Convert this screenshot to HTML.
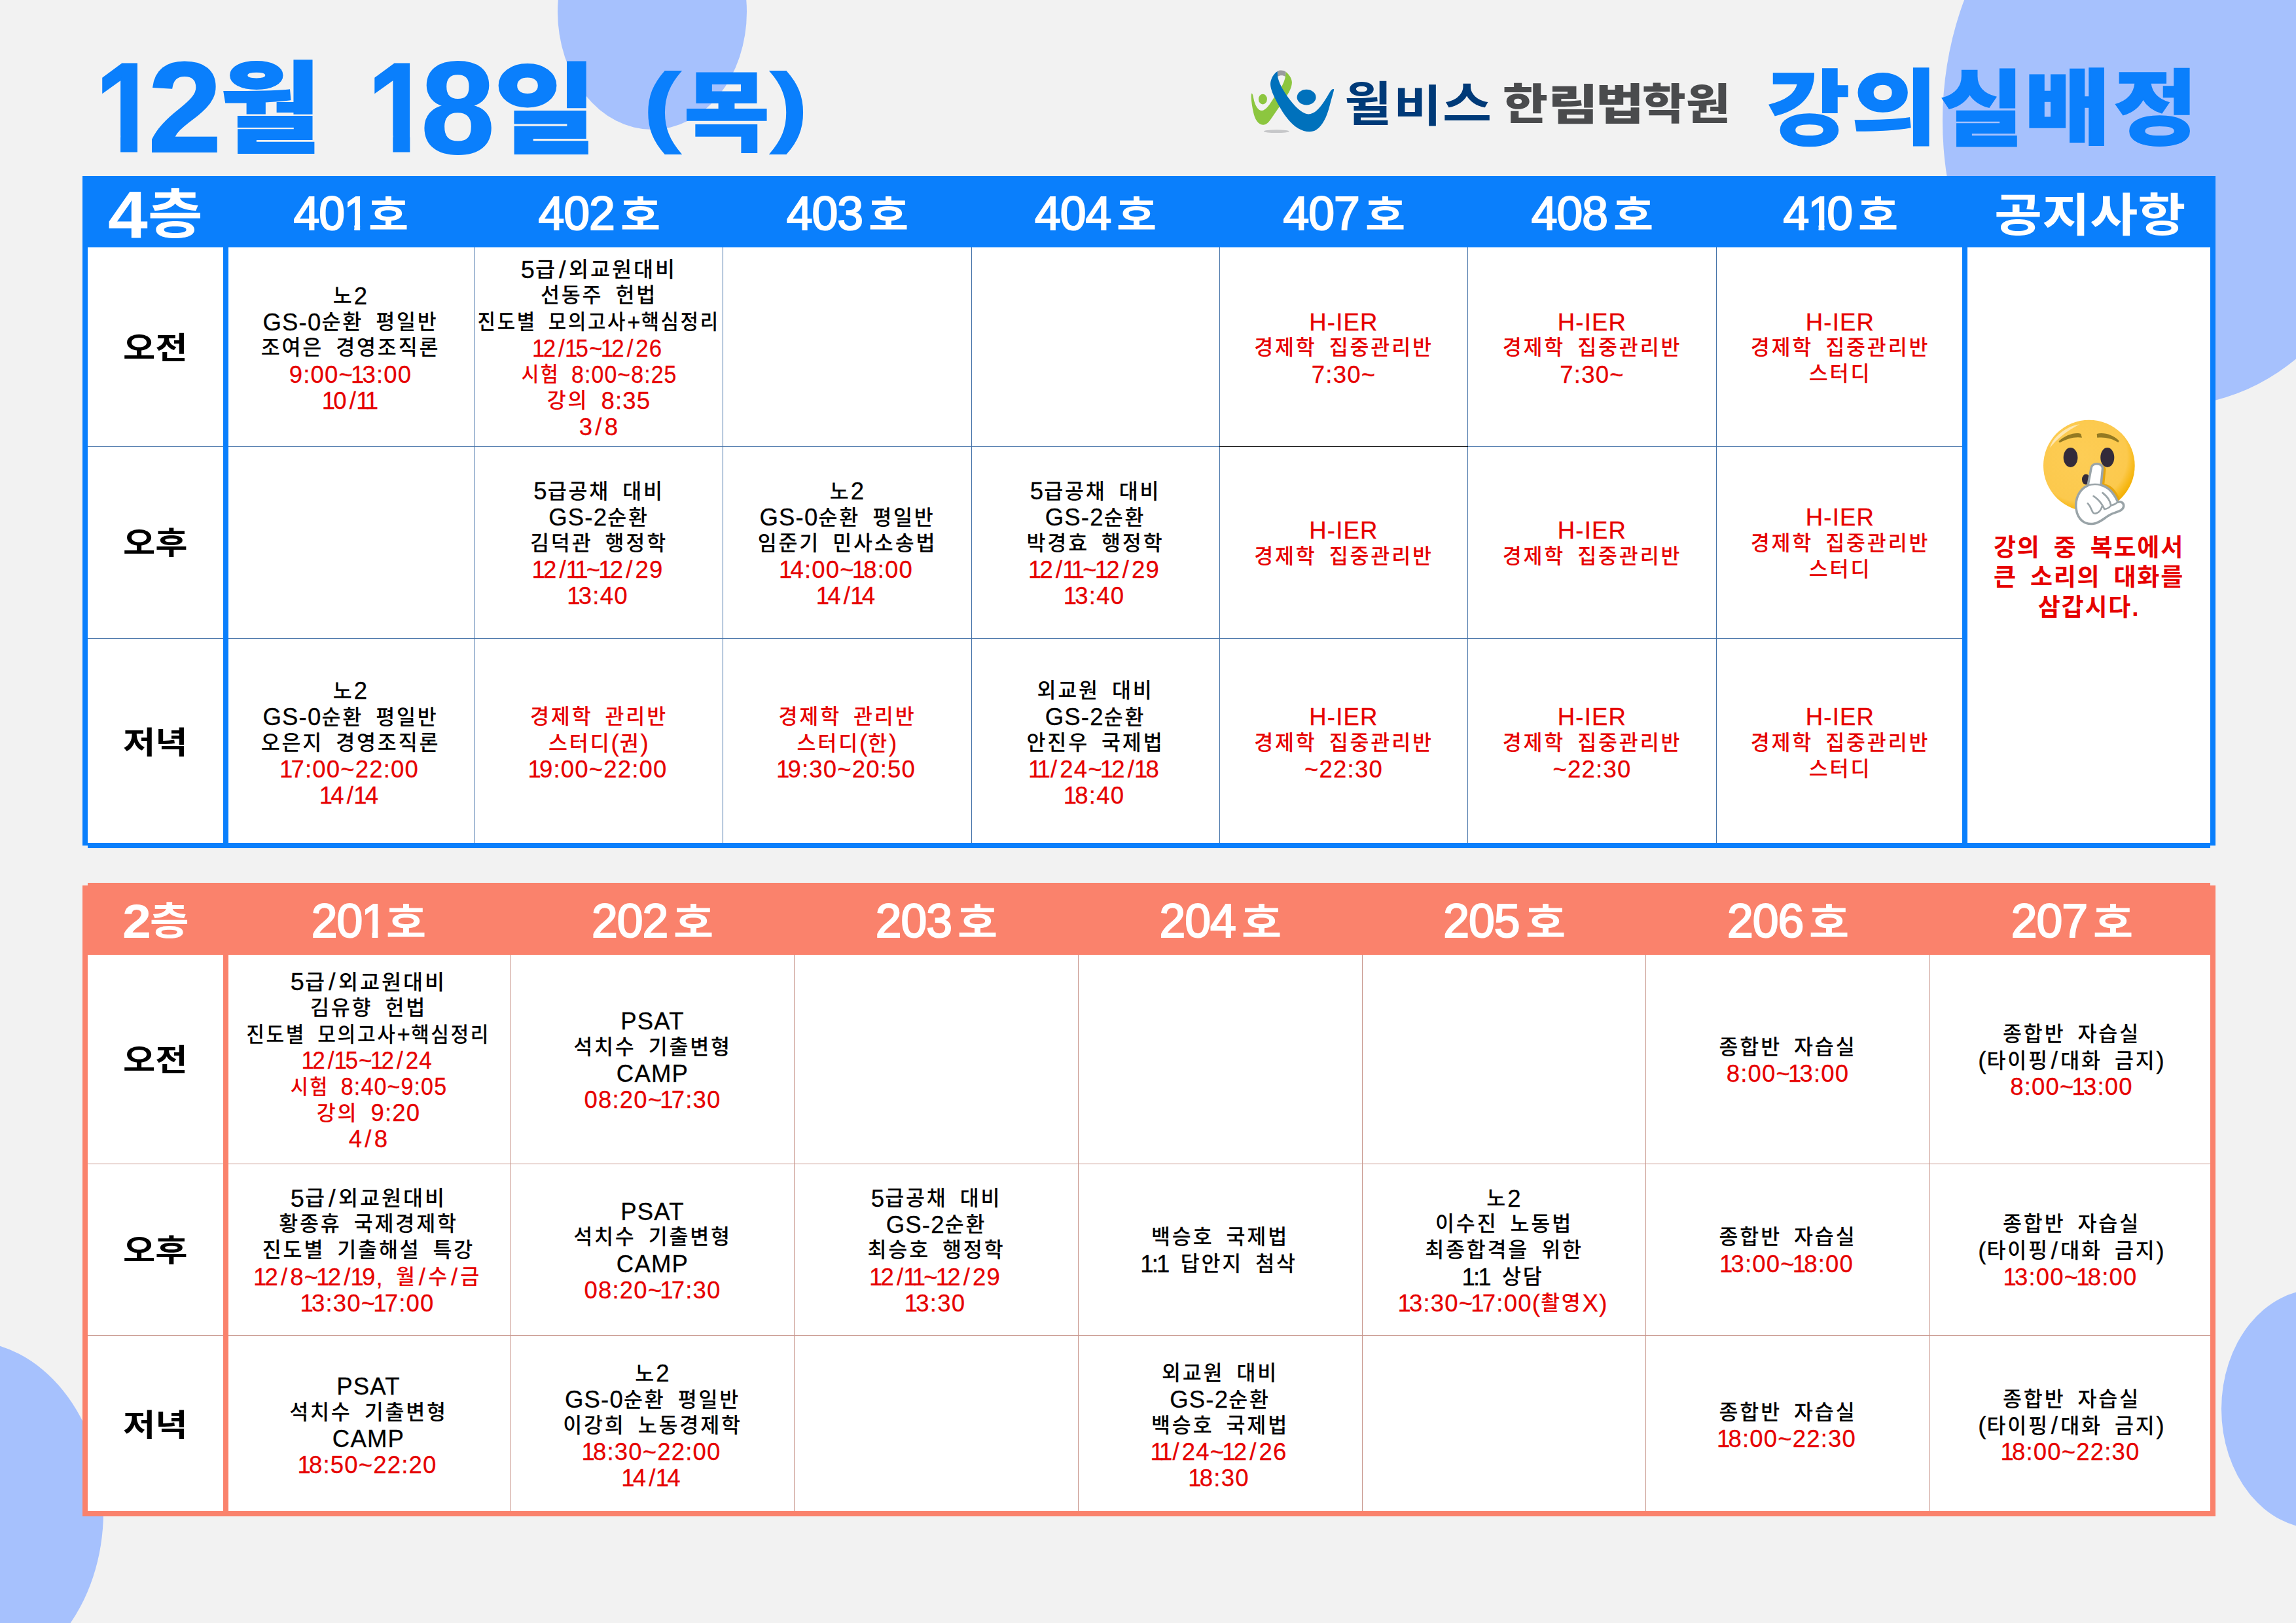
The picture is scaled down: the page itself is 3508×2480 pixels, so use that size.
<!DOCTYPE html>
<html lang="ko"><head><meta charset="utf-8"><title>강의실배정</title>
<style>
html,body{margin:0;padding:0}
body{width:3508px;height:2480px;background:#f2f2f2;position:relative;overflow:hidden;font-family:"Liberation Sans","Noto Sans CJK KR",sans-serif}
div{box-sizing:border-box}
.abs{position:absolute}
.circ{position:absolute;border-radius:50%;background:#a6c1fd}
.c{position:absolute;display:flex;flex-direction:column;justify-content:center;align-items:center;text-align:center;font-size:31.5px;font-weight:500;line-height:40px;letter-spacing:2.8px;word-spacing:7.6px;white-space:nowrap;padding-top:2px}
.a{font-size:36.5px;letter-spacing:1.2px;position:relative;top:1.5px;-webkit-text-stroke:0.3px currentColor}.s{margin:0 3px}.o{margin:0 -4px}
.c>div{height:40px}
.k{color:#000}.r{color:#e60000}
.lab{position:absolute;display:flex;justify-content:center;align-items:center;font-size:47px;font-weight:700;color:#000;white-space:nowrap;padding-bottom:6px}
.lab span{display:inline-block;transform:scaleX(1.14)}
.h{position:absolute;display:flex;justify-content:center;align-items:center;color:#fff;font-weight:700;white-space:nowrap}
.hh{align-items:flex-start}
.hd{font-size:71.5px;font-weight:400;-webkit-text-stroke:2.2px #fff;letter-spacing:-1px;line-height:1;margin-top:22.3px}
.h1{display:inline-block;clip-path:polygon(0 0,64.5% 0,64.5% 100%,42% 100%,42% 71%,0 71%);margin-left:-1px;margin-right:-10px}
.ho{font-size:61.6px;line-height:1;margin-top:30.2px;margin-left:9px;display:inline-block;width:60px;transform:scaleX(1.078);transform-origin:0 0}
.sp{position:absolute;line-height:1;font-weight:700;color:#fff;white-space:nowrap;transform-origin:0 0}
.vl{position:absolute;width:1px}
.hl{position:absolute;height:1px}
</style></head><body>

<div class="circ" style="left:852.2px;top:-162.0px;width:288.6px;height:360.0px"></div>
<div class="circ" style="left:2967.5px;top:-250.0px;width:697.0px;height:870.0px"></div>
<div class="circ" style="left:-259.7px;top:2049.0px;width:417.4px;height:522.0px"></div>
<div class="circ" style="left:3394.0px;top:1969.5px;width:292.8px;height:366.0px"></div>
<div id="title"><span style="position:absolute;left:145.9px;top:67.8px;font-size:193.7px;line-height:1;font-weight:700;color:#0a7ffc;white-space:nowrap;transform-origin:0 0;transform:scaleX(0.873);-webkit-text-stroke-width:3px;clip-path:polygon(0 0,68% 0,68% 100%,40.5% 100%,40.5% 72%,0 72%);">1</span><span style="position:absolute;left:225.7px;top:64.8px;font-size:197.4px;line-height:1;font-weight:700;color:#0a7ffc;white-space:nowrap;transform-origin:0 0;transform:scaleX(1.028);-webkit-text-stroke-width:2px;">2</span><span style="position:absolute;left:336.4px;top:91.8px;font-size:151.2px;line-height:1;font-weight:900;color:#0a7ffc;white-space:nowrap;transform-origin:0 0;transform:scaleX(1.110);-webkit-text-stroke-width:1.8px;">월</span><span style="position:absolute;left:561.7px;top:67.8px;font-size:193.7px;line-height:1;font-weight:700;color:#0a7ffc;white-space:nowrap;transform-origin:0 0;transform:scaleX(0.878);-webkit-text-stroke-width:3px;clip-path:polygon(0 0,68% 0,68% 100%,40.5% 100%,40.5% 72%,0 72%);">1</span><span style="position:absolute;left:642.9px;top:64.8px;font-size:199.8px;line-height:1;font-weight:700;color:#0a7ffc;white-space:nowrap;transform-origin:0 0;transform:scaleX(1.017);-webkit-text-stroke-width:2px;">8</span><span style="position:absolute;left:754.6px;top:93.5px;font-size:151.3px;line-height:1;font-weight:900;color:#0a7ffc;white-space:nowrap;transform-origin:0 0;transform:scaleX(1.124);-webkit-text-stroke-width:1.8px;">일</span><span style="position:absolute;left:982.6px;top:93.4px;font-size:135.7px;line-height:1;font-weight:700;color:#0a7ffc;white-space:nowrap;transform-origin:0 0;transform:scaleX(1.262);-webkit-text-stroke-width:2px;">(</span><span style="position:absolute;left:1045.0px;top:107.4px;font-size:133.6px;line-height:1;font-weight:900;color:#0a7ffc;white-space:nowrap;transform-origin:0 0;transform:scaleX(1.063);-webkit-text-stroke-width:1.8px;">목</span><span style="position:absolute;left:1176.8px;top:93.4px;font-size:135.7px;line-height:1;font-weight:700;color:#0a7ffc;white-space:nowrap;transform-origin:0 0;transform:scaleX(1.270);-webkit-text-stroke-width:2px;">)</span></div>
<svg class="abs" style="left:1900px;top:95px" width="150" height="120" viewBox="0 0 2029 1623">
<ellipse cx="680" cy="1430" rx="262" ry="32" fill="#c6c7c9"/>
<path d="M165 645 C185 640 195 680 205 740 C235 900 300 1000 380 1000 C460 1000 550 860 615 755 L790 500 C825 430 850 370 865 300 L872 200 C940 250 1000 340 1000 420 C995 520 950 610 895 690 L730 935 L560 1185 C500 1270 450 1300 400 1295 C300 1285 230 1180 200 1020 C170 880 145 700 165 645 Z" fill="#8cc63f"/>
<path d="M700 188 C740 160 830 160 872 200 L865 300 C820 265 750 265 705 300 Z" fill="#9a9b9f"/>
<path d="M700 188 C620 240 560 340 555 450 C555 560 620 700 720 880 C820 1060 950 1260 1130 1370 C1250 1440 1400 1465 1500 1400 C1640 1310 1720 1130 1780 900 C1820 740 1860 620 1870 560 C1850 545 1820 560 1790 610 C1700 760 1620 900 1520 990 C1440 1065 1350 1095 1270 1060 C1130 1000 980 820 880 670 C800 550 730 420 705 300 Z" fill="#0071bc"/>
<ellipse cx="1300" cy="725" rx="196" ry="160" fill="#0071bc"/>
<ellipse cx="398" cy="765" rx="88" ry="106" fill="#8cc63f"/>
</svg>

<div id="rt"><span style="position:absolute;left:2700.3px;top:105.6px;font-size:125.1px;line-height:1;font-weight:900;color:#0a7ffc;white-space:nowrap;transform-origin:0 0;transform:scaleX(1.097);-webkit-text-stroke-width:1.5px;">강</span><span style="position:absolute;left:2828.6px;top:104.6px;font-size:124.8px;line-height:1;font-weight:900;color:#0a7ffc;white-space:nowrap;transform-origin:0 0;transform:scaleX(1.139);-webkit-text-stroke-width:1.5px;">의</span><span style="position:absolute;left:2964.4px;top:104.6px;font-size:126.5px;line-height:1;font-weight:900;color:#0a7ffc;white-space:nowrap;transform-origin:0 0;transform:scaleX(1.101);-webkit-text-stroke-width:1.5px;">실</span><span style="position:absolute;left:3092.8px;top:104.6px;font-size:124.8px;line-height:1;font-weight:900;color:#0a7ffc;white-space:nowrap;transform-origin:0 0;transform:scaleX(1.146);-webkit-text-stroke-width:1.5px;">배</span><span style="position:absolute;left:3229.2px;top:104.6px;font-size:126.1px;line-height:1;font-weight:900;color:#0a7ffc;white-space:nowrap;transform-origin:0 0;transform:scaleX(1.108);-webkit-text-stroke-width:1.5px;">정</span></div>
<div id="wb"><span style="position:absolute;left:2054.4px;top:124.3px;font-size:71.1px;line-height:1;font-weight:700;color:#003a78;white-space:nowrap;transform-origin:0 0;transform:scaleX(1.113);">윌</span><span style="position:absolute;left:2128.8px;top:129.8px;font-size:66.5px;line-height:1;font-weight:700;color:#003a78;white-space:nowrap;transform-origin:0 0;transform:scaleX(1.206);">비</span><span style="position:absolute;left:2204.1px;top:123.7px;font-size:72.9px;line-height:1;font-weight:700;color:#003a78;white-space:nowrap;transform-origin:0 0;transform:scaleX(1.119);">스</span></div>
<div id="hl"><span style="position:absolute;left:2295.7px;top:128.0px;font-size:64.8px;line-height:1;font-weight:900;color:#4a4b4d;white-space:nowrap;transform-origin:0 0;transform:scaleX(1.154);">한</span><span style="position:absolute;left:2364.9px;top:128.0px;font-size:65.1px;line-height:1;font-weight:900;color:#4a4b4d;white-space:nowrap;transform-origin:0 0;transform:scaleX(1.286);">림</span><span style="position:absolute;left:2437.7px;top:128.0px;font-size:65.4px;line-height:1;font-weight:900;color:#4a4b4d;white-space:nowrap;transform-origin:0 0;transform:scaleX(1.228);">법</span><span style="position:absolute;left:2508.5px;top:128.0px;font-size:64.4px;line-height:1;font-weight:900;color:#4a4b4d;white-space:nowrap;transform-origin:0 0;transform:scaleX(1.125);">학</span><span style="position:absolute;left:2576.3px;top:128.0px;font-size:64.8px;line-height:1;font-weight:900;color:#4a4b4d;white-space:nowrap;transform-origin:0 0;transform:scaleX(1.130);">원</span></div>

<div class="abs" style="left:126px;top:269px;width:3259px;height:109px;background:#0a7ffc"></div>
<div class="abs" style="left:134px;top:378px;width:3243px;height:910px;background:#fff"></div>
<div class="abs" style="left:126px;top:269px;width:8px;height:1023px;background:#0a7ffc;z-index:1"></div>
<div class="abs" style="left:3377px;top:269px;width:8px;height:1023px;background:#0a7ffc;z-index:1"></div>
<div class="abs" style="left:134px;top:1288px;width:3243px;height:8px;background:#0a7ffc"></div>
<div class="abs" style="left:341px;top:378px;width:8px;height:910px;background:#0a7ffc;z-index:1"></div>
<div class="abs" style="left:2998px;top:378px;width:8px;height:910px;background:#0a7ffc;z-index:1"></div>
<div class="vl" style="left:725px;top:378px;height:910px;background:#4472a8"></div>
<div class="vl" style="left:1104px;top:378px;height:910px;background:#4472a8"></div>
<div class="vl" style="left:1484px;top:378px;height:910px;background:#4472a8"></div>
<div class="vl" style="left:1863px;top:378px;height:910px;background:#4472a8"></div>
<div class="vl" style="left:2242px;top:378px;height:910px;background:#4472a8"></div>
<div class="vl" style="left:2622px;top:378px;height:910px;background:#4472a8"></div>
<div class="hl" style="left:134px;top:682px;width:2864px;background:#4472a8"></div>
<div class="hl" style="left:134px;top:975px;width:2864px;background:#4472a8"></div>
<div class="hl" style="left:1863px;top:682px;width:380px;background:#000"></div>
<span class="sp" style="left:164.9px;top:277.4px;font-size:102.9px;transform:scaleX(1.062)">4</span><span class="sp" style="left:226.4px;top:287.4px;font-size:81.5px;transform:scaleX(1.118)">층</span>
<div class="h hh" style="left:346.1px;top:269px;width:379.3px;height:109px"><span class="hd">40<span class="h1">1</span></span><span class="ho">호</span></div>
<div class="h hh" style="left:725.4px;top:269px;width:379.3px;height:109px"><span class="hd">402</span><span class="ho">호</span></div>
<div class="h hh" style="left:1104.8px;top:269px;width:379.3px;height:109px"><span class="hd">403</span><span class="ho">호</span></div>
<div class="h hh" style="left:1484.1px;top:269px;width:379.3px;height:109px"><span class="hd">404</span><span class="ho">호</span></div>
<div class="h hh" style="left:1863.4px;top:269px;width:379.3px;height:109px"><span class="hd">407</span><span class="ho">호</span></div>
<div class="h hh" style="left:2242.8px;top:269px;width:379.3px;height:109px"><span class="hd">408</span><span class="ho">호</span></div>
<div class="h hh" style="left:2622.1px;top:269px;width:379.3px;height:109px"><span class="hd">4<span class="h1">1</span>0</span><span class="ho">호</span></div>
<span class="sp" style="left:3046.9px;top:295px;font-size:70px;transform:scaleX(1.135)">공지사항</span>
<div class="lab" style="left:134px;top:378px;width:207px;height:304px"><span>오전</span></div>
<div class="lab" style="left:134px;top:682px;width:207px;height:293px"><span>오후</span></div>
<div class="lab" style="left:134px;top:975px;width:207px;height:317px"><span>저녁</span></div>
<div class="c" style="left:346px;top:378px;width:379px;height:304px"><div class="k">노<span class="a">2</span></div><div class="k"><span class="a">GS-0</span>순환 평일반</div><div class="k">조여은 경영조직론</div><div class="r"><span class="a">9:00~<span class="o">1</span>3:00</span></div><div class="r"><span class="a"><span class="o">1</span>0<span class="s">/</span><span class="o">1</span><span class="o">1</span></span></div></div>
<div class="c" style="left:725px;top:378px;width:380px;height:304px"><div class="k" style="transform:scaleX(1.038)"><span class="a">5</span>급<span class="a"><span class="s">/</span></span>외교원대비</div><div class="k">선동주 헌법</div><div class="k" style="transform:scaleX(0.946)">진도별 모의고사<span class="a">+</span>핵심정리</div><div class="r" style="transform:scaleX(0.952)"><span class="a"><span class="o">1</span>2<span class="s">/</span><span class="o">1</span>5~<span class="o">1</span>2<span class="s">/</span>26</span></div><div class="r" style="transform:scaleX(0.927)">시험 <span class="a">8:00~8:25</span></div><div class="r">강의 <span class="a">8:35</span></div><div class="r"><span class="a">3<span class="s">/</span>8</span></div></div>
<div class="c" style="left:1863px;top:378px;width:380px;height:304px"><div class="r"><span class="a">H-IER</span></div><div class="r">경제학 집중관리반</div><div class="r"><span class="a">7:30~</span></div></div>
<div class="c" style="left:2243px;top:378px;width:379px;height:304px"><div class="r"><span class="a">H-IER</span></div><div class="r">경제학 집중관리반</div><div class="r"><span class="a">7:30~</span></div></div>
<div class="c" style="left:2622px;top:378px;width:379px;height:304px"><div class="r"><span class="a">H-IER</span></div><div class="r">경제학 집중관리반</div><div class="r">스터디</div></div>
<div class="c" style="left:725px;top:682px;width:380px;height:293px"><div class="k"><span class="a">5</span>급공채 대비</div><div class="k"><span class="a">GS-2</span>순환</div><div class="k">김덕관 행정학</div><div class="r"><span class="a"><span class="o">1</span>2<span class="s">/</span><span class="o">1</span><span class="o">1</span>~<span class="o">1</span>2<span class="s">/</span>29</span></div><div class="r"><span class="a"><span class="o">1</span>3:40</span></div></div>
<div class="c" style="left:1105px;top:682px;width:379px;height:293px"><div class="k">노<span class="a">2</span></div><div class="k"><span class="a">GS-0</span>순환 평일반</div><div class="k">임준기 민사소송법</div><div class="r"><span class="a"><span class="o">1</span>4:00~<span class="o">1</span>8:00</span></div><div class="r"><span class="a"><span class="o">1</span>4<span class="s">/</span><span class="o">1</span>4</span></div></div>
<div class="c" style="left:1484px;top:682px;width:379px;height:293px"><div class="k"><span class="a">5</span>급공채 대비</div><div class="k"><span class="a">GS-2</span>순환</div><div class="k">박경효 행정학</div><div class="r"><span class="a"><span class="o">1</span>2<span class="s">/</span><span class="o">1</span><span class="o">1</span>~<span class="o">1</span>2<span class="s">/</span>29</span></div><div class="r"><span class="a"><span class="o">1</span>3:40</span></div></div>
<div class="c" style="left:1863px;top:682px;width:380px;height:293px"><div class="r"><span class="a">H-IER</span></div><div class="r">경제학 집중관리반</div></div>
<div class="c" style="left:2243px;top:682px;width:379px;height:293px"><div class="r"><span class="a">H-IER</span></div><div class="r">경제학 집중관리반</div></div>
<div class="c" style="left:2622px;top:682px;width:379px;height:293px"><div class="r"><span class="a">H-IER</span></div><div class="r">경제학 집중관리반</div><div class="r">스터디</div></div>
<div class="c" style="left:346px;top:975px;width:379px;height:317px"><div class="k">노<span class="a">2</span></div><div class="k"><span class="a">GS-0</span>순환 평일반</div><div class="k">오은지 경영조직론</div><div class="r"><span class="a"><span class="o">1</span>7:00~22:00</span></div><div class="r"><span class="a"><span class="o">1</span>4<span class="s">/</span><span class="o">1</span>4</span></div></div>
<div class="c" style="left:725px;top:975px;width:380px;height:317px"><div class="r">경제학 관리반</div><div class="r">스터디<span class="a">(</span>권<span class="a">)</span></div><div class="r"><span class="a"><span class="o">1</span>9:00~22:00</span></div></div>
<div class="c" style="left:1105px;top:975px;width:379px;height:317px"><div class="r">경제학 관리반</div><div class="r">스터디<span class="a">(</span>한<span class="a">)</span></div><div class="r"><span class="a"><span class="o">1</span>9:30~20:50</span></div></div>
<div class="c" style="left:1484px;top:975px;width:379px;height:317px"><div class="k">외교원 대비</div><div class="k"><span class="a">GS-2</span>순환</div><div class="k">안진우 국제법</div><div class="r"><span class="a"><span class="o">1</span><span class="o">1</span><span class="s">/</span>24~<span class="o">1</span>2<span class="s">/</span><span class="o">1</span>8</span></div><div class="r"><span class="a"><span class="o">1</span>8:40</span></div></div>
<div class="c" style="left:1863px;top:975px;width:380px;height:317px"><div class="r"><span class="a">H-IER</span></div><div class="r">경제학 집중관리반</div><div class="r"><span class="a">~22:30</span></div></div>
<div class="c" style="left:2243px;top:975px;width:379px;height:317px"><div class="r"><span class="a">H-IER</span></div><div class="r">경제학 집중관리반</div><div class="r"><span class="a">~22:30</span></div></div>
<div class="c" style="left:2622px;top:975px;width:379px;height:317px"><div class="r"><span class="a">H-IER</span></div><div class="r">경제학 집중관리반</div><div class="r">스터디</div></div>
<svg class="abs" style="left:3110px;top:630px" width="160" height="180" viewBox="0 0 1443 1623">
<defs>
<radialGradient id="fg" cx="0.42" cy="0.40" r="0.62"><stop offset="0" stop-color="#fdcd55"/><stop offset="0.8" stop-color="#fcc94d"/><stop offset="0.93" stop-color="#f7b919"/><stop offset="1" stop-color="#f3b005"/></radialGradient>
<clipPath id="fc"><circle cx="738" cy="735" r="630"/></clipPath>
</defs>
<circle cx="738" cy="735" r="630" fill="url(#fg)"/>
<path d="M200 490 C230 350 420 190 610 165 C440 250 290 370 200 490 Z" fill="#fff" opacity="0.55"/>
<path d="M320 400 C400 315 560 268 625 298 L640 350 C560 330 430 360 333 420 Z" fill="#947a22"/>
<path d="M845 298 C930 268 1085 312 1152 395 L1140 415 C1060 362 950 336 850 350 Z" fill="#947a22"/>
<ellipse cx="483" cy="622" rx="98" ry="135" fill="#332b3a"/>
<ellipse cx="990" cy="622" rx="95" ry="135" fill="#332b3a"/>
<ellipse cx="695" cy="925" rx="55" ry="72" fill="#332b3a"/>
<g clip-path="url(#fc)"><path d="M770 1030 L815 780 C825 705 965 705 970 790 L950 985 C1060 1010 1130 1090 1180 1250 L1100 1300 Z" fill="#e5a50e"/></g>
<path d="M722 1008 L768 765 C780 690 920 690 925 772 L902 1003 C1010 1030 1085 1120 1135 1238 C1180 1222 1222 1250 1214 1300 C1200 1362 1120 1368 1050 1400 C950 1448 900 1520 800 1535 C680 1552 580 1480 560 1330 C542 1200 602 1058 722 1008 Z" fill="#fff" stroke="#9aa4a8" stroke-width="32" stroke-linejoin="round"/>
<path d="M722 1008 C790 985 850 990 902 1003" fill="none" stroke="#9aa4a8" stroke-width="24"/>
<path d="M720 1255 C790 1330 770 1410 835 1392 C885 1378 905 1340 920 1290 M800 1155 C885 1210 930 1290 950 1335 C990 1330 1020 1310 1040 1285 M925 1110 C990 1160 1030 1225 1040 1285 C1080 1275 1110 1260 1135 1238" fill="none" stroke="#9aa4a8" stroke-width="24" stroke-linecap="round"/>
</svg>

<div id="notice" class="abs" style="left:3006px;top:815px;width:371px;text-align:center;font-size:37px;line-height:45.3px;font-weight:700;letter-spacing:1.8px;color:#e60000;word-spacing:8px;white-space:nowrap">강의 중 복도에서<br>큰 소리의 대화를<br>삼갑시다.</div>
<div class="abs" style="left:134px;top:1349px;width:3243px;height:110px;background:#fa826c"></div>
<div class="abs" style="left:134px;top:1459px;width:3243px;height:850px;background:#fff"></div>
<div class="abs" style="left:126px;top:1353px;width:8px;height:964px;background:#fa826c;z-index:1"></div>
<div class="abs" style="left:3377px;top:1353px;width:8px;height:964px;background:#fa826c;z-index:1"></div>
<div class="abs" style="left:126px;top:2309px;width:3259px;height:8px;background:#fa826c"></div>
<div class="abs" style="left:341px;top:1459px;width:8px;height:850px;background:#fa826c;z-index:1"></div>
<div class="vl" style="left:779px;top:1459px;height:850px;background:#c8968c"></div>
<div class="vl" style="left:1213px;top:1459px;height:850px;background:#c8968c"></div>
<div class="vl" style="left:1647px;top:1459px;height:850px;background:#c8968c"></div>
<div class="vl" style="left:2081px;top:1459px;height:850px;background:#c8968c"></div>
<div class="vl" style="left:2514px;top:1459px;height:850px;background:#c8968c"></div>
<div class="vl" style="left:2948px;top:1459px;height:850px;background:#c8968c"></div>
<div class="hl" style="left:134px;top:1778px;width:3243px;background:#c8968c"></div>
<div class="hl" style="left:134px;top:2040px;width:3243px;background:#c8968c"></div>
<span class="sp" style="left:186.8px;top:1371.7px;font-size:72.9px;transform:scaleX(1.084)">2</span><span class="sp" style="left:229.1px;top:1377.7px;font-size:59.4px;transform:scaleX(1.094)">층</span>
<div class="h hh" style="left:346.0px;top:1350px;width:433.8px;height:109px"><span class="hd">20<span class="h1">1</span></span><span class="ho">호</span></div>
<div class="h hh" style="left:779.8px;top:1350px;width:433.8px;height:109px"><span class="hd">202</span><span class="ho">호</span></div>
<div class="h hh" style="left:1213.5px;top:1350px;width:433.8px;height:109px"><span class="hd">203</span><span class="ho">호</span></div>
<div class="h hh" style="left:1647.2px;top:1350px;width:433.8px;height:109px"><span class="hd">204</span><span class="ho">호</span></div>
<div class="h hh" style="left:2081.0px;top:1350px;width:433.8px;height:109px"><span class="hd">205</span><span class="ho">호</span></div>
<div class="h hh" style="left:2514.8px;top:1350px;width:433.8px;height:109px"><span class="hd">206</span><span class="ho">호</span></div>
<div class="h hh" style="left:2948.5px;top:1350px;width:433.8px;height:109px"><span class="hd">207</span><span class="ho">호</span></div>
<div class="lab" style="left:134px;top:1459px;width:207px;height:319px"><span>오전</span></div>
<div class="lab" style="left:134px;top:1778px;width:207px;height:262px"><span>오후</span></div>
<div class="lab" style="left:134px;top:2040px;width:207px;height:273px"><span>저녁</span></div>
<div class="c" style="left:346px;top:1459px;width:434px;height:319px"><div class="k" style="transform:scaleX(1.038)"><span class="a">5</span>급<span class="a"><span class="s">/</span></span>외교원대비</div><div class="k">김유향 헌법</div><div class="k" style="transform:scaleX(0.953)">진도별 모의고사<span class="a">+</span>핵심정리</div><div class="r" style="transform:scaleX(0.958)"><span class="a"><span class="o">1</span>2<span class="s">/</span><span class="o">1</span>5~<span class="o">1</span>2<span class="s">/</span>24</span></div><div class="r" style="transform:scaleX(0.932)">시험 <span class="a">8:40~9:05</span></div><div class="r">강의 <span class="a">9:20</span></div><div class="r"><span class="a">4<span class="s">/</span>8</span></div></div>
<div class="c" style="left:780px;top:1459px;width:434px;height:319px"><div class="k"><span class="a">PSAT</span></div><div class="k">석치수 기출변형</div><div class="k"><span class="a">CAMP</span></div><div class="r"><span class="a">08:20~<span class="o">1</span>7:30</span></div></div>
<div class="c" style="left:2515px;top:1459px;width:433px;height:319px"><div class="k">종합반 자습실</div><div class="r"><span class="a">8:00~<span class="o">1</span>3:00</span></div></div>
<div class="c" style="left:2948px;top:1459px;width:434px;height:319px"><div class="k">종합반 자습실</div><div class="k"><span class="a">(</span>타이핑<span class="a"><span class="s">/</span></span>대화 금지<span class="a">)</span></div><div class="r"><span class="a">8:00~<span class="o">1</span>3:00</span></div></div>
<div class="c" style="left:346px;top:1778px;width:434px;height:262px"><div class="k" style="transform:scaleX(1.038)"><span class="a">5</span>급<span class="a"><span class="s">/</span></span>외교원대비</div><div class="k">황종휴 국제경제학</div><div class="k">진도별 기출해설 특강</div><div class="r"><span class="a"><span class="o">1</span>2<span class="s">/</span>8~<span class="o">1</span>2<span class="s">/</span><span class="o">1</span>9,</span> 월<span class="a"><span class="s">/</span></span>수<span class="a"><span class="s">/</span></span>금</div><div class="r"><span class="a"><span class="o">1</span>3:30~<span class="o">1</span>7:00</span></div></div>
<div class="c" style="left:780px;top:1778px;width:434px;height:262px"><div class="k"><span class="a">PSAT</span></div><div class="k">석치수 기출변형</div><div class="k"><span class="a">CAMP</span></div><div class="r"><span class="a">08:20~<span class="o">1</span>7:30</span></div></div>
<div class="c" style="left:1214px;top:1778px;width:433px;height:262px"><div class="k"><span class="a">5</span>급공채 대비</div><div class="k"><span class="a">GS-2</span>순환</div><div class="k">최승호 행정학</div><div class="r"><span class="a"><span class="o">1</span>2<span class="s">/</span><span class="o">1</span><span class="o">1</span>~<span class="o">1</span>2<span class="s">/</span>29</span></div><div class="r"><span class="a"><span class="o">1</span>3:30</span></div></div>
<div class="c" style="left:1647px;top:1778px;width:434px;height:262px"><div class="k">백승호 국제법</div><div class="k"><span class="a"><span class="o">1</span>:<span class="o">1</span></span> 답안지 첨삭</div></div>
<div class="c" style="left:2081px;top:1778px;width:434px;height:262px"><div class="k">노<span class="a">2</span></div><div class="k">이수진 노동법</div><div class="k">최종합격을 위한</div><div class="k"><span class="a"><span class="o">1</span>:<span class="o">1</span></span> 상담</div><div class="r"><span class="a"><span class="o">1</span>3:30~<span class="o">1</span>7:00(</span>촬영<span class="a">X)</span></div></div>
<div class="c" style="left:2515px;top:1778px;width:433px;height:262px"><div class="k">종합반 자습실</div><div class="r"><span class="a"><span class="o">1</span>3:00~<span class="o">1</span>8:00</span></div></div>
<div class="c" style="left:2948px;top:1778px;width:434px;height:262px"><div class="k">종합반 자습실</div><div class="k"><span class="a">(</span>타이핑<span class="a"><span class="s">/</span></span>대화 금지<span class="a">)</span></div><div class="r"><span class="a"><span class="o">1</span>3:00~<span class="o">1</span>8:00</span></div></div>
<div class="c" style="left:346px;top:2040px;width:434px;height:273px"><div class="k"><span class="a">PSAT</span></div><div class="k">석치수 기출변형</div><div class="k"><span class="a">CAMP</span></div><div class="r"><span class="a"><span class="o">1</span>8:50~22:20</span></div></div>
<div class="c" style="left:780px;top:2040px;width:434px;height:273px"><div class="k">노<span class="a">2</span></div><div class="k"><span class="a">GS-0</span>순환 평일반</div><div class="k">이강희 노동경제학</div><div class="r"><span class="a"><span class="o">1</span>8:30~22:00</span></div><div class="r"><span class="a"><span class="o">1</span>4<span class="s">/</span><span class="o">1</span>4</span></div></div>
<div class="c" style="left:1647px;top:2040px;width:434px;height:273px"><div class="k">외교원 대비</div><div class="k"><span class="a">GS-2</span>순환</div><div class="k">백승호 국제법</div><div class="r"><span class="a"><span class="o">1</span><span class="o">1</span><span class="s">/</span>24~<span class="o">1</span>2<span class="s">/</span>26</span></div><div class="r"><span class="a"><span class="o">1</span>8:30</span></div></div>
<div class="c" style="left:2515px;top:2040px;width:433px;height:273px"><div class="k">종합반 자습실</div><div class="r"><span class="a"><span class="o">1</span>8:00~22:30</span></div></div>
<div class="c" style="left:2948px;top:2040px;width:434px;height:273px"><div class="k">종합반 자습실</div><div class="k"><span class="a">(</span>타이핑<span class="a"><span class="s">/</span></span>대화 금지<span class="a">)</span></div><div class="r"><span class="a"><span class="o">1</span>8:00~22:30</span></div></div>
</body></html>
